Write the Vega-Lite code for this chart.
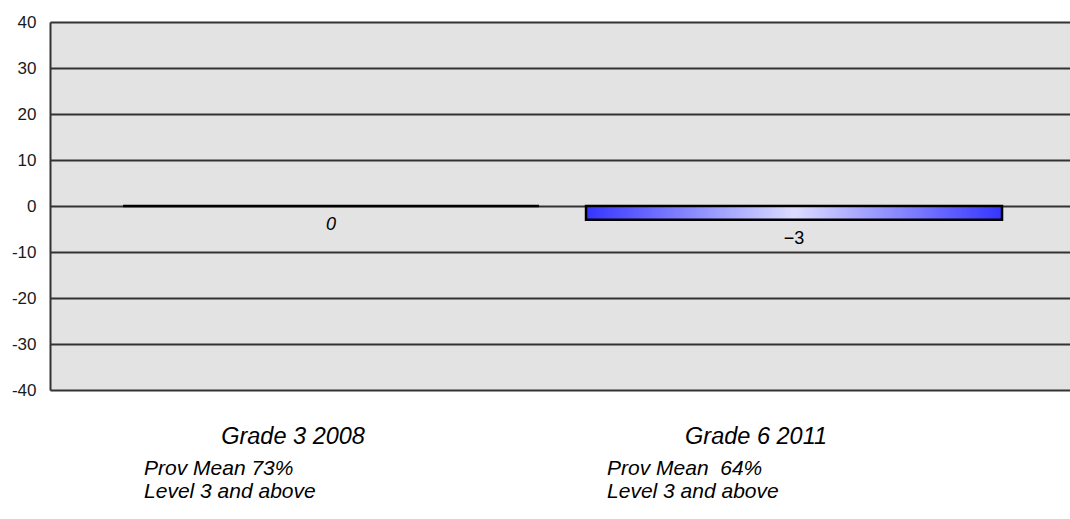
{
  "$schema": "https://vega.github.io/schema/vega-lite/v6.json",
  "width": 1020,
  "height": 368,
  "autosize": {"type": "none"},
  "padding": {"left": 50, "top": 22, "right": 0, "bottom": 129},
  "background": "white",
  "config": {
    "view": {"fill": "#e3e3e3", "stroke": null},
    "font": "Liberation Sans"
  },
  "data": {
    "values": [
      {"group": "Grade 3 2008", "value": 0, "note": "Prov Mean 73%\nLevel 3 and above"},
      {"group": "Grade 6 2011", "value": -3, "note": "Prov Mean\u00a0 64%\nLevel 3 and above"}
    ]
  },
  "encoding": {
    "x": {
      "field": "group",
      "type": "nominal",
      "sort": null,
      "scale": {"paddingInner": 0.1015, "paddingOuter": 0.1523, "align": 0.518},
      "axis": {
        "title": null,
        "ticks": false,
        "tickSize": 0,
        "domain": false,
        "grid": false,
        "labelAngle": 0,
        "labelFontSize": 23.5,
        "labelFontStyle": "italic",
        "labelColor": "black",
        "labelOffset": -38,
        "labelPadding": 53,
        "labelBaseline": "alphabetic"
      }
    }
  },
  "layer": [
    {
      "mark": {
        "type": "bar",
        "fill": {
          "gradient": "linear",
          "x1": 0, "y1": 0, "x2": 1, "y2": 0,
          "stops": [
            {"offset": 0, "color": "#3535ff"},
            {"offset": 0.5, "color": "#dcdcff"},
            {"offset": 1, "color": "#3535ff"}
          ]
        },
        "stroke": "black",
        "strokeWidth": 2.5
      },
      "encoding": {
        "y": {
          "field": "value",
          "type": "quantitative",
          "scale": {"domain": [-40, 40], "nice": false, "zero": false},
          "axis": {
            "title": null,
            "values": [-40, -30, -20, -10, 0, 10, 20, 30, 40],
            "grid": true,
            "gridColor": "#333333",
            "gridWidth": 2,
            "domainColor": "#333333",
            "domainWidth": 2,
            "ticks": false,
            "tickSize": 0,
            "labelPadding": 14,
            "labelFontSize": 17,
            "labelColor": "#1a1a1a",
            "labelBaseline": "middle",
            "labelExpr": "datum.value < 0 ? '-' + abs(datum.value) : '' + datum.value"
          }
        }
      }
    },
    {
      "transform": [{"filter": "datum.value == 0"}],
      "mark": {"type": "text", "fontSize": 18, "fontStyle": "italic", "dy": 19, "baseline": "middle", "color": "black"},
      "encoding": {
        "y": {"field": "value", "type": "quantitative"},
        "text": {"field": "value", "type": "quantitative"}
      }
    },
    {
      "transform": [{"filter": "datum.value != 0"}],
      "mark": {"type": "text", "fontSize": 18, "dy": 19, "baseline": "middle", "color": "black"},
      "encoding": {
        "y": {"field": "value", "type": "quantitative"},
        "text": {"field": "value", "type": "quantitative"}
      }
    },
    {
      "mark": {
        "type": "text",
        "align": "left",
        "baseline": "alphabetic",
        "dx": -187,
        "dy": 85,
        "fontSize": 21,
        "fontStyle": "italic",
        "lineBreak": "\n",
        "lineHeight": 23,
        "color": "black"
      },
      "encoding": {
        "y": {"datum": -40},
        "text": {"field": "note"}
      }
    }
  ]
}
